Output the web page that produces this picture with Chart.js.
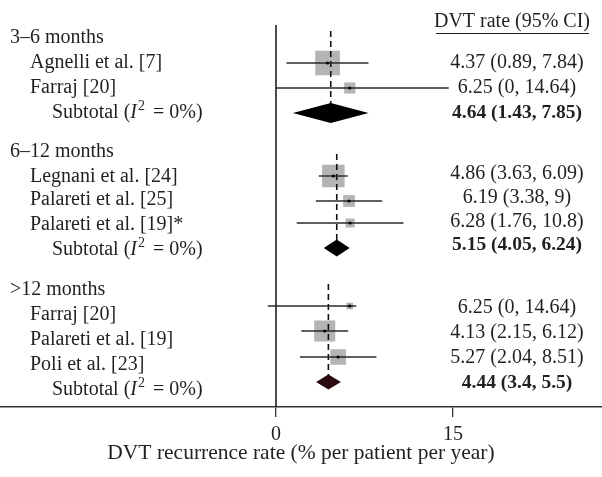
<!DOCTYPE html>
<html>
<head>
<meta charset="utf-8">
<script src="https://cdn.jsdelivr.net/npm/chart.js@4"></script>
<style>
    html, body { margin: 0; padding: 0; background: #fff; }
</style>
</head>
<body>
<canvas id="forest-plot" width="602" height="477"></canvas>
<script>
/* ==========================================================
   DVT RECURRENCE FOREST PLOT
   ========================================================== */

// data
const groups = ["3–6 months", "6–12 months", ">12 months"];
const studies = [
    "Agnelli et al. [7]", "Farraj [20]",
    "Legnani et al. [24]", "Palareti et al. [25]", "Palareti et al. [19]*",
    "Farraj [20]", "Palareti et al. [19]", "Poli et al. [23]"
];
const studyGroup = [0, 0, 1, 1, 1, 2, 2, 2];
const rates = [4.37, 6.25, 4.86, 6.19, 6.28, 6.25, 4.13, 5.27];
const ciLow = [0.89, 0, 3.63, 3.38, 1.76, -0.7, 2.15, 2.04];
const ciHigh = [7.84, 14.64, 6.09, 9, 10.8, 6.8, 6.12, 8.51];
const weights = [83, 17, 70, 19, 11, 6, 61, 33];
const rateLabels = [
    "4.37 (0.89, 7.84)", "6.25 (0, 14.64)",
    "4.86 (3.63, 6.09)", "6.19 (3.38, 9)", "6.28 (1.76, 10.8)",
    "6.25 (0, 14.64)", "4.13 (2.15, 6.12)", "5.27 (2.04, 8.51)"
];
const subRates = [4.64, 5.15, 4.44];
const subLow = [1.43, 4.05, 3.4];
const subHigh = [7.85, 6.24, 5.5];
const subLabels = ["4.64 (1.43, 7.85)", "5.15 (4.05, 6.24)", "4.44 (3.4, 5.5)"];
const xTicks = [0, 15];

// layout (row units, one row = 25px)
const FONT = "'Liberation Serif', 'DejaVu Serif', serif";
const INK = "#231f20";
const studyRows = [1, 2, 5.52, 6.52, 7.4, 10.72, 11.72, 12.76];
const subRows = [3, 8.4, 13.76];
const dashTop = [-0.28, 4.64, 9.84];
const headerRows = [0, 4.56, 10.08];
const nameRows = [1, 2, 5.56, 6.48, 7.48, 11.08, 12.08, 13.08];
const subNameRows = [3, 8.48, 14.08];
const valueRows = [1, 2, 5.44, 6.4, 7.36, 10.8, 11.8, 12.8];
const subValueRows = [3, 8.28, 13.8];
const diamondHalf = [10, 8.5, 7.5];
const diamondColors = ["#000000", "#000000", "#2a0a0e"];

const datasets = [];

// centre dots
datasets.push({
    type: "scatter",
    data: rates.map((r, i) => ({ x: r, y: studyRows[i] })),
    pointRadius: 1.6,
    pointBackgroundColor: "#000",
    pointBorderWidth: 0
});

// confidence intervals
rates.forEach((r, i) => {
    datasets.push({
        type: "line",
        data: [{ x: ciLow[i], y: studyRows[i] }, { x: ciHigh[i], y: studyRows[i] }],
        borderColor: "#2a2a2a",
        borderWidth: 1.4,
        pointRadius: 0
    });
});

// dashed subtotal lines
subRates.forEach((r, g) => {
    datasets.push({
        type: "line",
        data: [{ x: r, y: dashTop[g] }, { x: r, y: subRows[g] }],
        borderColor: "#111",
        borderWidth: 1.6,
        borderDash: [6, 4],
        pointRadius: 0
    });
});

// no-effect line at 0
datasets.push({
    type: "line",
    data: [{ x: 0, y: -0.52 }, { x: 0, y: 14.76 }],
    borderColor: "#111",
    borderWidth: 1.5,
    pointRadius: 0
});

// weight squares (drawn first, under the lines)
datasets.push({
    type: "scatter",
    data: rates.map((r, i) => ({ x: r, y: studyRows[i] })),
    pointStyle: "rect",
    pointRadius: weights.map(w => 2.7 * Math.sqrt(w) / Math.SQRT2),
    pointBackgroundColor: "#b4b4b4",
    pointBorderWidth: 0
});

const diamondPlugin = {
    id: "diamonds",
    afterDatasetsDraw(chart) {
        const { ctx, scales: { x, y } } = chart;
        subRates.forEach((r, g) => {
            const cy = y.getPixelForValue(subRows[g]);
            const h = diamondHalf[g];
            ctx.save();
            ctx.beginPath();
            ctx.moveTo(x.getPixelForValue(subLow[g]), cy);
            ctx.lineTo(x.getPixelForValue(r), cy - h);
            ctx.lineTo(x.getPixelForValue(subHigh[g]), cy);
            ctx.lineTo(x.getPixelForValue(r), cy + h);
            ctx.closePath();
            ctx.fillStyle = diamondColors[g];
            ctx.fill();
            ctx.restore();
        });
    }
};

function drawSubtotal(ctx, x0, cy) {
    let x = x0;
    ctx.font = `20px ${FONT}`;
    ctx.fillText("Subtotal (", x, cy);
    x += ctx.measureText("Subtotal (").width;
    ctx.font = `italic 20px ${FONT}`;
    ctx.fillText("I", x, cy);
    x += ctx.measureText("I").width + 1;
    ctx.font = `14px ${FONT}`;
    ctx.fillText("2", x, cy - 7);
    x += ctx.measureText("2").width + 8;
    ctx.font = `20px ${FONT}`;
    ctx.fillText("= 0%)", x, cy);
}

const textPlugin = {
    id: "forestText",
    afterDraw(chart) {
        const { ctx, scales: { y } } = chart;
        ctx.save();
        ctx.fillStyle = INK;
        ctx.textBaseline = "middle";

        // left column
        ctx.textAlign = "left";
        ctx.font = `20px ${FONT}`;
        groups.forEach((g, i) => ctx.fillText(g, 10, y.getPixelForValue(headerRows[i])));
        studies.forEach((s, i) => ctx.fillText(s, 30, y.getPixelForValue(nameRows[i])));
        subNameRows.forEach(r => drawSubtotal(ctx, 52, y.getPixelForValue(r)));

        // right column
        ctx.textAlign = "center";
        ctx.font = `20px ${FONT}`;
        ctx.fillText("DVT rate (95% CI)", 512, y.getPixelForValue(-0.64));
        rateLabels.forEach((t, i) => ctx.fillText(t, 517, y.getPixelForValue(valueRows[i])));
        ctx.font = `bold 19.5px ${FONT}`;
        subLabels.forEach((t, i) => ctx.fillText(t, 517, y.getPixelForValue(subValueRows[i])));

        // header underline
        ctx.strokeStyle = INK;
        ctx.lineWidth = 1;
        ctx.beginPath();
        const uy = Math.round(y.getPixelForValue(-0.2)) + 0.5;
        ctx.moveTo(436, uy);
        ctx.lineTo(589, uy);
        ctx.stroke();
        ctx.restore();
    }
};

new Chart(document.getElementById("forest-plot"), {
    type: "scatter",
    data: { datasets },
    options: {
        responsive: false,
        animation: false,
        events: [],
        layout: { padding: 0, autoPadding: false },
        plugins: {
            legend: { display: false },
            tooltip: { enabled: false }
        },
        scales: {
            x: {
                type: "linear",
                min: -23.39,
                max: 27.63,
                afterBuildTicks: s => { s.ticks = xTicks.map(v => ({ value: v })); },
                afterFit: s => {
                    s.height = 70;
                    s.paddingLeft = 0;
                    s.paddingRight = 0;
                },
                ticks: {
                    color: INK,
                    padding: 6,
                    font: { family: FONT, size: 20 },
                    callback: v => String(v)
                },
                grid: {
                    drawOnChartArea: false,
                    drawTicks: true,
                    tickLength: 10,
                    color: "#333",
                    lineWidth: 1.3
                },
                border: { display: true, color: "#333", width: 1.5 },
                title: {
                    display: true,
                    text: "DVT recurrence rate (% per patient per year)",
                    color: INK,
                    font: { family: FONT, size: 21.5 },
                    padding: { top: 0, bottom: 11 }
                }
            },
            y: {
                type: "linear",
                display: false,
                reverse: true,
                min: -1.52,
                max: 14.76
            }
        }
    },
    plugins: [diamondPlugin, textPlugin]
});
</script>
</body>
</html>
